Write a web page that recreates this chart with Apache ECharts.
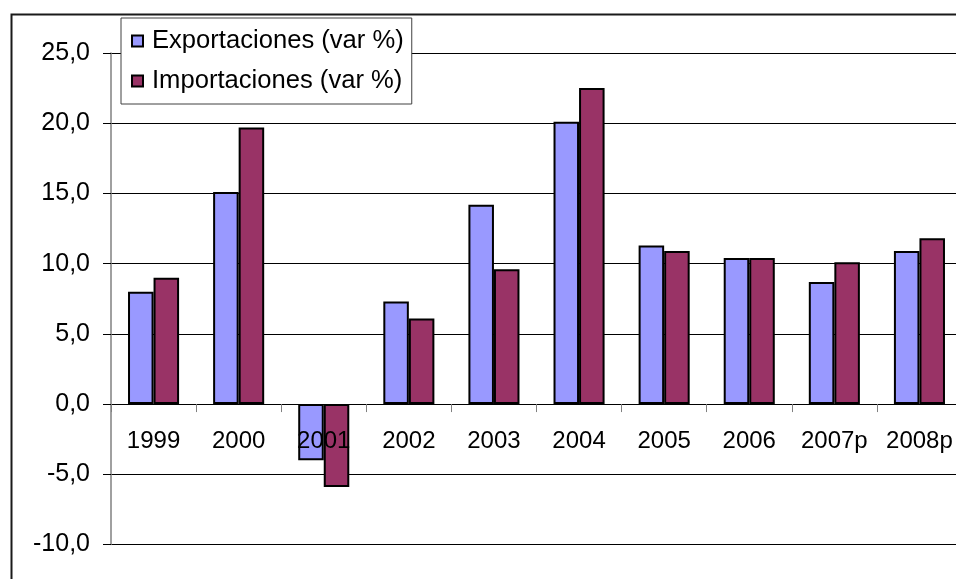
<!DOCTYPE html>
<html>
<head>
<meta charset="utf-8">
<script src="https://cdn.jsdelivr.net/npm/echarts@6/dist/echarts.min.js"></script>
<style>
html,body{margin:0;padding:0;background:#fff;}
#chart{width:956px;height:579px;}
</style>
</head>
<body>
<div id="chart"></div>
<script>
const categories = ['1999','2000','2001','2002','2003','2004','2005','2006','2007p','2008p'];
const exportaciones = [8.0, 15.1, -4.0, 7.3, 14.2, 20.1, 11.3, 10.4, 8.7, 10.9];
const importaciones = [9.0, 19.7, -5.9, 6.1, 9.6, 22.5, 10.9, 10.4, 10.1, 11.8];
const seriesNames = ['Exportaciones (var %)', 'Importaciones (var %)'];
const yTicks = { min: -10, max: 25, interval: 5 };

const chart = echarts.init(document.getElementById('chart'), null, {renderer:'canvas'});
const font = '"Liberation Sans", Arial, sans-serif';
const gridTop = 53, gridHeight = 491.5;
// distance from zero line to bottom of grid, so labels sit under the zero axis line
const zeroToBottom = gridHeight * (0 - yTicks.min) / (yTicks.max - yTicks.min);
chart.setOption({
  animation: false,
  backgroundColor: '#fff',
  graphic: [{
    type: 'rect', left: 9, top: 12, z: 0, silent: true,
    shape: { x: 0, y: 0, width: 1000, height: 1000 },
    style: { fill: 'none', stroke: '#1a1a1a', lineWidth: 2 }
  }],
  grid: { left: 111, top: gridTop, width: 851, height: gridHeight, containLabel: false, outerBoundsMode: 'none' },
  legend: {
    orient: 'vertical', left: 121, top: 18,
    padding: [10, 8, 10, 10],
    itemWidth: 11, itemHeight: 11, itemGap: 14,
    backgroundColor: '#fff', borderColor: '#404040', borderWidth: 1,
    icon: 'rect',
    textStyle: { fontFamily: font, fontSize: 25.6, color: '#000', padding: [0, 0, 0, 4] },
    data: seriesNames
  },
  xAxis: {
    type: 'category', data: categories, z: 5,
    axisLine: { onZero: true, lineStyle: { color: '#000', width: 1 } },
    axisTick: { show: true, length: 8, inside: false, alignWithLabel: false, interval: 0, lineStyle: { color: '#808080' } },
    axisLabel: { fontFamily: font, fontSize: 24, color: '#000', margin: 25 - zeroToBottom, interval: 0 },
    splitLine: { show: false }
  },
  yAxis: {
    type: 'value', min: yTicks.min, max: yTicks.max, interval: yTicks.interval,
    axisLine: { show: true, lineStyle: { color: '#808080', width: 1.5 } },
    axisTick: { show: true, length: 8, lineStyle: { color: '#000' } },
    axisLabel: { fontFamily: font, fontSize: 25, color: '#000', margin: 21,
      formatter: v => v.toFixed(1).replace('.', ',') },
    splitLine: { show: true, lineStyle: { color: '#000', width: 1 } }
  },
  series: [{
    name: seriesNames[0], type: 'bar', data: exportaciones,
    barGap: '0%', barCategoryGap: '40%',
    itemStyle: { color: '#9999FF', borderColor: '#000', borderWidth: 2 }
  }, {
    name: seriesNames[1], type: 'bar', data: importaciones,
    barGap: '0%', barCategoryGap: '40%',
    itemStyle: { color: '#993366', borderColor: '#000', borderWidth: 2 }
  }]
});
</script>
</body>
</html>
